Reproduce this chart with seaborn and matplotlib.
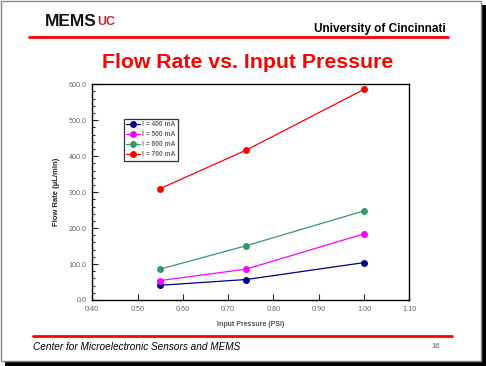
import numpy as np
import pandas as pd
import seaborn as sns
import matplotlib.pyplot as plt
from matplotlib.patches import Rectangle
from matplotlib.lines import Line2D
from matplotlib.ticker import MultipleLocator, FormatStrFormatter

# data
pressure = [0.55, 0.74, 1.00]
i400 = [41, 57, 104]
i500 = [54, 86, 184]
i600 = [86, 151, 248]
i700 = [310, 417, 586]
labels = ["I = 400 mA", "I = 500 mA", "I = 600 mA", "I = 700 mA"]
colors = ["#000080", "#FF00FF", "#339966", "#FF0000"]

df = pd.DataFrame({
    "pressure": pressure * 4,
    "flow": i400 + i500 + i600 + i700,
    "current": [lab for lab in labels for _ in pressure],
})

sns.set_style("white")
plt.rcParams['font.family'] = ['Liberation Sans', 'DejaVu Sans']

fig = plt.figure(figsize=(4.86, 3.66), dpi=100)

# slide frame: black shadow, white page with grey border
W, H = 486, 366
fig.patches.append(Rectangle((5 / W, 0), 481 / W, 361 / H, transform=fig.transFigure,
                             facecolor="black", edgecolor="none", zorder=0))
fig.patches.append(Rectangle((1 / W, 5 / H), 480 / W, 360 / H, transform=fig.transFigure,
                             facecolor="white", edgecolor="#888888", linewidth=1, zorder=1))

# header / footer rules
fig.add_artist(Line2D([29 / W, 448 / W], [1 - 36.5 / H, 1 - 36.5 / H], color="red", lw=2, zorder=2))
fig.add_artist(Line2D([33 / W, 452 / W], [1 - 336 / H, 1 - 336 / H], color="red", lw=2, zorder=2))

fig.text(446 / W, 1 - 29 / H, "University of Cincinnati", ha="right", va="center",
         fontsize=8.5, fontweight="bold", color="black")
fig.text(45 / W, 1 - 22 / H, "MEMS", ha="left", va="center", fontsize=12.5,
         fontweight="bold", color="#111111")
fig.text(97 / W, 1 - 22 / H, "UC", ha="left", va="center", fontsize=9,
         fontweight="bold", color="#CC2222")
fig.text(248 / W, 1 - 63 / H, "Flow Rate vs. Input Pressure", ha="center", va="center",
         fontsize=15.3, fontweight="bold", color="red")
fig.text(33 / W, 1 - 347 / H, "Center for Microelectronic Sensors and MEMS", ha="left",
         va="center", fontsize=7.2, style="italic", color="black")
fig.text(436 / W, 1 - 347 / H, "16", ha="center", va="center", fontsize=5.5, color="#555555")

ax = fig.add_axes([92.3 / W, 1 - 300 / H, 317 / W, 215.7 / H])
ax.set_zorder(3)
sns.lineplot(data=df, x="pressure", y="flow", hue="current", palette=colors,
             marker="o", markersize=5, markeredgewidth=0, linewidth=0.9, ax=ax)

ax.set_xlim(0.40, 1.10)
ax.set_ylim(0, 600)
ax.xaxis.set_major_locator(MultipleLocator(0.1))
ax.yaxis.set_major_locator(MultipleLocator(100))
ax.yaxis.set_minor_locator(MultipleLocator(20))
ax.xaxis.set_major_formatter(FormatStrFormatter("%.2f"))
ax.yaxis.set_major_formatter(FormatStrFormatter("%.1f"))
ax.tick_params(axis="both", which="both", direction="in", labelsize=5.2,
               labelcolor="#666666", left=True, bottom=True, width=0.8)
ax.tick_params(axis="y", which="major", length=4, pad=4)
ax.tick_params(axis="y", which="minor", length=2)
ax.tick_params(axis="x", which="major", length=4, pad=4)
for s in ax.spines.values():
    s.set_color("black")
    s.set_linewidth(1)

ax.set_xlabel("Input Pressure (PSI)", fontsize=5, fontweight="bold", color="#555555", labelpad=6)
ax.set_ylabel("Flow Rate (\u00b5L/min)", fontsize=5.5, fontweight="bold", color="#222222", labelpad=6)

leg = ax.legend(loc="upper left", bbox_to_anchor=(0.09, 0.855), fontsize=4.8,
                frameon=True, fancybox=False, edgecolor="black", handlelength=2.0,
                borderpad=0.35, labelspacing=0.45, handletextpad=0.3)
leg.get_frame().set_linewidth(0.9)
for t in leg.get_texts():
    t.set_color("#666666")
    t.set_fontweight("bold")

fig.savefig("out.png", dpi=100)
